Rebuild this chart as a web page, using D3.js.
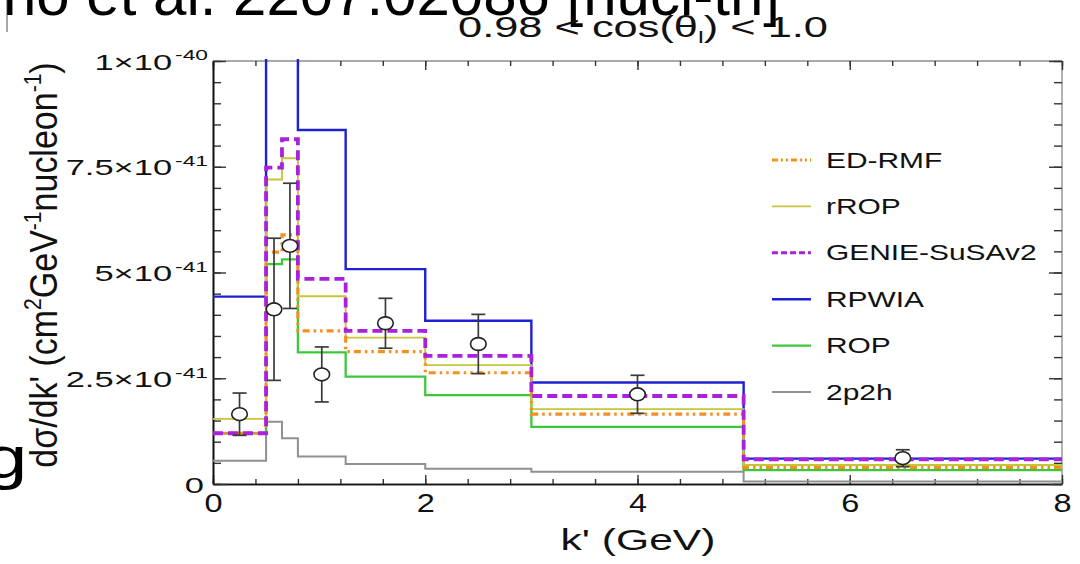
<!DOCTYPE html>
<html>
<head>
<meta charset="utf-8">
<script src="https://cdn.jsdelivr.net/npm/d3@7"></script>
<style>
  html, body { margin: 0; padding: 0; background: #fff; }
  svg { display: block; }
  text { font-family: "Liberation Sans", Arial, Helvetica, sans-serif; }
</style>
</head>
<body>
<svg id="chart" width="1080" height="564"></svg>
<script>
// Bin edges in k' (GeV)
const kEdges = [0, 0.5, 0.65, 0.8, 1.25, 2, 3, 5, 8];

// Per-bin predictions, in units of 1e-41 cm^2 GeV^-1 nucleon^-1
const edRmf       = [1.20, 5.48, 5.89, 3.62, 3.13, 2.63, 1.65, 0.39];
const rRop        = [1.54, 7.20, 7.70, 4.44, 3.46, 2.81, 1.77, 0.45];
const genieSusav2 = [1.20, 7.48, 8.15, 4.85, 3.62, 3.03, 2.08, 0.58];
const rpwia       = [4.43, 12.0, 12.0, 8.37, 5.08, 3.86, 2.40, 0.60];
const rop         = [1.20, 5.20, 5.31, 3.11, 2.54, 2.10, 1.35, 0.33];
const twoP2h      = [0.55, 1.47, 1.08, 0.65, 0.47, 0.36, 0.29, 0.06];

// Measured points with symmetric uncertainties
const dataK   = [0.25, 0.575, 0.725, 1.025, 1.625, 2.5, 4.0, 6.5];
const dataVal = [1.65, 4.13, 5.63, 2.59, 3.80, 3.31, 2.12, 0.61];
const dataErr = [0.50, 1.68, 1.48, 0.65, 0.59, 0.70, 0.45, 0.20];

// Axis ticks and labels
const xTicks = [0, 2, 4, 6, 8];
const xTickLabels = ["0", "2", "4", "6", "8"];
const yTicks = [0, 2.5, 5, 7.5, 10];
const yTickMantissa = ["0", "2.5×10", "5×10", "7.5×10", "1×10"];
const yTickExponent = ["", "-41", "-41", "-41", "-40"];

const legendNames = ["ED-RMF", "rROP", "GENIE-SuSAv2", "RPWIA", "ROP", "2p2h"];

// Series table: values plus stroke styles
const series = [
  { name: "ED-RMF",       values: edRmf,       color: "#f5901f", width: 3.2, dash: "7,4,2.5,4,2.5,4" },
  { name: "rROP",         values: rRop,        color: "#c9c33a", width: 1.9, dash: null },
  { name: "GENIE-SuSAv2", values: genieSusav2, color: "#a822dc", width: 3.8, dash: "10,5" },
  { name: "RPWIA",        values: rpwia,       color: "#1f20d2", width: 2.4, dash: null },
  { name: "ROP",          values: rop,         color: "#3cc83c", width: 2.3, dash: null },
  { name: "2p2h",         values: twoP2h,      color: "#909090", width: 2.0, dash: null }
];
const drawOrder = ["2p2h", "RPWIA", "ROP", "rROP", "ED-RMF", "GENIE-SuSAv2"];

const svg = d3.select("#chart");
const plot = { left: 213, right: 1062, top: 61, bottom: 484 };

const x = d3.scaleLinear().domain([0, 8]).range([plot.left, plot.right]);
const y = d3.scaleLinear().domain([0, 10]).range([plot.bottom, plot.top]);

// Text helper: horizontally stretched text with optional super/subscripts
function richText(parent, opt) {
  const rot = opt.rotate ? ` rotate(${opt.rotate})` : "";
  const g = parent.append("g")
    .attr("transform", `translate(${opt.x},${opt.y}) scale(${opt.sx || 1},1)${rot}`);
  const t = g.append("text")
    .attr("text-anchor", opt.anchor || "start")
    .attr("font-size", opt.size)
    .attr("fill", opt.fill || "#111");
  let shift = 0;
  opt.parts.forEach(p => {
    const [str, kind] = Array.isArray(p) ? p : [p, ""];
    const ts = t.append("tspan").text(str);
    let target = 0, fs = opt.size;
    if (kind === "sup") { target = -opt.size * (opt.supRaise || 0.40); fs = opt.size * (opt.supScale || 0.65); }
    else if (kind === "sub") { target = opt.size * 0.22; fs = opt.size * 0.6; }
    ts.attr("font-size", fs).attr("dy", target - shift);
    if (kind && opt.supGap) ts.attr("dx", opt.supGap);
    shift = target;
  });
  if (opt.width) {
    const w = t.node().getComputedTextLength();
    g.attr("transform", `translate(${opt.x},${opt.y}) scale(${opt.width / w},1)${rot}`);
  }
  return g;
}

// Slide text around the figure
svg.append("line")
  .attr("x1", 7).attr("x2", 7).attr("y1", 0).attr("y2", 32)
  .attr("stroke", "#8a8a8a").attr("stroke-width", 1.5);
richText(svg, { x: 3, y: 15, size: 60, width: 777, fill: "#000",
  parts: ["no et al. 2207.02086 [nucl-th]"] });
richText(svg, { x: -16, y: 478, size: 60, sx: 1.3, fill: "#000", parts: ["g"] });

// Title
richText(svg, { x: 643, y: 37, size: 29, width: 370, anchor: "middle",
  parts: ["0.98 < cos(θ", ["l", "sub"], ") < 1.0"] });

// Clip region for the histograms
svg.append("clipPath").attr("id", "plotClip")
  .append("rect")
  .attr("x", plot.left).attr("y", plot.top - 2)
  .attr("width", plot.right - plot.left).attr("height", plot.bottom - plot.top + 2);

// Frame
svg.append("line").attr("x1", plot.left).attr("x2", plot.right).attr("y1", plot.top).attr("y2", plot.top)
  .attr("stroke", "#8c8c8c").attr("stroke-width", 1.5);
svg.append("line").attr("x1", plot.right).attr("x2", plot.right).attr("y1", plot.top).attr("y2", plot.bottom)
  .attr("stroke", "#9a9a9a").attr("stroke-width", 1.5);

// Axes: major and minor ticks, all pointing inward
const xMinor = d3.range(0, 8.001, 0.4).map(v => +v.toFixed(2));
const yMinor = d3.range(0, 10.001, 0.5).map(v => +v.toFixed(2));

function styleAxis(g, color) {
  g.select(".domain").attr("stroke", color).attr("stroke-width", 1.6);
  g.selectAll(".tick line").attr("stroke", "#333").attr("stroke-width", 1.4);
}

const gxMinor = svg.append("g").attr("transform", `translate(0,${plot.bottom})`)
  .call(d3.axisBottom(x).tickValues(xMinor).tickSizeInner(-5).tickSizeOuter(0).tickFormat(""));
styleAxis(gxMinor, "#111");
const gx = svg.append("g").attr("transform", `translate(0,${plot.bottom})`)
  .call(d3.axisBottom(x).tickValues(xTicks).tickSizeInner(-9).tickSizeOuter(0).tickPadding(10)
    .tickFormat((d, i) => xTickLabels[i]));
styleAxis(gx, "#111");
gx.selectAll(".tick text").attr("font-size", 25).attr("fill", "#111").attr("transform", "scale(1.3,1)");

const gtMinor = svg.append("g").attr("transform", `translate(0,${plot.top})`)
  .call(d3.axisTop(x).tickValues(xMinor).tickSizeInner(-5).tickSizeOuter(0).tickFormat(""));
styleAxis(gtMinor, "none");
const gt = svg.append("g").attr("transform", `translate(0,${plot.top})`)
  .call(d3.axisTop(x).tickValues(xTicks).tickSizeInner(-9).tickSizeOuter(0).tickFormat(""));
styleAxis(gt, "none");

const gyMinor = svg.append("g").attr("transform", `translate(${plot.left},0)`)
  .call(d3.axisLeft(y).tickValues(yMinor).tickSizeInner(-8).tickSizeOuter(0).tickFormat(""));
styleAxis(gyMinor, "#111");
const gy = svg.append("g").attr("transform", `translate(${plot.left},0)`)
  .call(d3.axisLeft(y).tickValues(yTicks).tickSizeInner(-13).tickSizeOuter(0).tickFormat(""));
styleAxis(gy, "#111");

const grMinor = svg.append("g").attr("transform", `translate(${plot.right},0)`)
  .call(d3.axisRight(y).tickValues(yMinor).tickSizeInner(-8).tickSizeOuter(0).tickFormat(""));
styleAxis(grMinor, "none");
const gr = svg.append("g").attr("transform", `translate(${plot.right},0)`)
  .call(d3.axisRight(y).tickValues(yTicks).tickSizeInner(-13).tickSizeOuter(0).tickFormat(""));
styleAxis(gr, "none");

// Y tick labels with exponents
yTicks.forEach((v, i) => {
  const parts = [yTickMantissa[i]];
  if (yTickExponent[i]) parts.push([yTickExponent[i], "sup"]);
  richText(svg, { x: yTickExponent[i] ? 208 : 204, y: y(v) + 8.5, size: 23, sx: 1.5,
    anchor: "end", supScale: 0.66, supRaise: 0.40, supGap: 2, parts });
});

// Axis titles
richText(svg, { x: 638, y: 550, size: 30, width: 155, anchor: "middle", parts: ["k' (GeV)"] });
richText(svg, { x: 57, y: 265, size: 34, sx: 1.15, rotate: -90, anchor: "middle",
  supScale: 0.62, supRaise: 0.42,
  parts: ["dσ/dk' (cm", ["2", "sup"], "GeV", ["-1", "sup"], "nucleon", ["-1", "sup"], ")"] });

// Histograms
const stepLine = d3.line()
  .x(d => x(d[0]))
  .y(d => y(d[1]))
  .curve(d3.curveStepAfter);

const hist = svg.append("g").attr("clip-path", "url(#plotClip)");
drawOrder.forEach(name => {
  const s = series.find(d => d.name === name);
  const pts = s.values.map((v, i) => [kEdges[i], v]);
  pts.push([kEdges[s.values.length], s.values[s.values.length - 1]]);
  hist.append("path")
    .attr("d", stepLine(pts))
    .attr("fill", "none")
    .attr("stroke", s.color)
    .attr("stroke-width", s.width)
    .attr("stroke-dasharray", s.dash)
    .attr("stroke-linejoin", "miter");
});

// Data points with error bars
const pts = svg.append("g");
dataK.forEach((k, i) => {
  const cx = x(k);
  const y1 = y(dataVal[i] + dataErr[i]);
  const y0 = y(dataVal[i] - dataErr[i]);
  const cap = 7;
  pts.append("line").attr("x1", cx).attr("x2", cx).attr("y1", y1).attr("y2", y0)
    .attr("stroke", "#3a3a3a").attr("stroke-width", 1.7);
  pts.append("line").attr("x1", cx - cap).attr("x2", cx + cap).attr("y1", y1).attr("y2", y1)
    .attr("stroke", "#3a3a3a").attr("stroke-width", 1.7);
  pts.append("line").attr("x1", cx - cap).attr("x2", cx + cap).attr("y1", y0).attr("y2", y0)
    .attr("stroke", "#3a3a3a").attr("stroke-width", 1.7);
  pts.append("ellipse").attr("cx", cx).attr("cy", y(dataVal[i]))
    .attr("rx", 7.8).attr("ry", 6.4)
    .attr("fill", "#fff").attr("stroke", "#222").attr("stroke-width", 1.6);
});

// Legend
const legend = svg.append("g");
const legendTop = 160, legendStep = 46.4;
legendNames.forEach((name, i) => {
  const s = series.find(d => d.name === name);
  const ly = legendTop + i * legendStep;
  legend.append("line")
    .attr("x1", 772).attr("x2", 811).attr("y1", ly).attr("y2", ly)
    .attr("stroke", s.color)
    .attr("stroke-width", Math.min(s.width, 3))
    .attr("stroke-dasharray", s.dash ? (name === "ED-RMF" ? "6,3,2,3,2,3" : "6,3") : null);
  richText(legend, { x: 826, y: ly + 7.5, size: 22, sx: 1.36, parts: [name] });
});
</script>
</body>
</html>
